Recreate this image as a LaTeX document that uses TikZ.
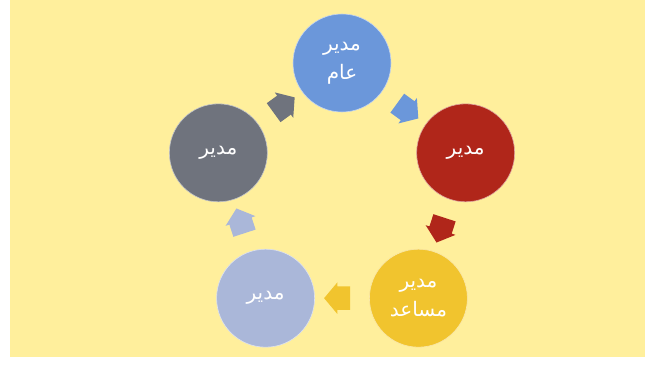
\documentclass[tikz,border=0pt]{standalone}
\usepackage{fontspec}
\newfontfamily\arabicfont[Script=Arabic]{DejaVu Sans}
\TeXXeTstate=1
\usetikzlibrary{shapes.arrows,calc}
\definecolor{paper}{HTML}{FFEF9C}
\definecolor{chiefblue}{HTML}{6B97DA}
\definecolor{brick}{HTML}{B0261A}
\definecolor{gold}{HTML}{F1C42E}
\definecolor{lavender}{HTML}{AAB7D9}
\definecolor{slate}{HTML}{6F737D}
\tikzset{
  manager/.style={circle,fill=#1,draw=white!60!#1,line width=0.6pt,
    minimum size=98pt,inner sep=0pt,text=white,align=center,
    font=\arabicfont\fontsize{20}{29}\selectfont},
  flow/.style={single arrow,fill=#1,draw=none,inner xsep=0pt,inner ysep=11.5pt,
    minimum height=26pt,
    single arrow head extend=4pt,single arrow tip angle=100}
}

\begin{document}
\begin{tikzpicture}[x=1pt, y=1pt]
        \fill[white] (0,0) rectangle (645,365);
        \fill[paper] (10,8) rectangle (645,365);
        \useasboundingbox (0,0) rectangle (645,365);

        \coordinate (O) at (342,172);
        \node[manager=chiefblue] (M_1) at ($(O)+(90:130)$)  {\beginR مدير\endR\\\beginR عام\endR};
        \node[manager=brick] (M_2) at ($(O)+(18:130)$)  {\beginR مدير\endR};
        \node[manager=gold] (M_3) at ($(O)+(-54:130)$)  {\beginR مدير\endR\\\beginR مساعد\endR};
        \node[manager=lavender] (M_4) at ($(O)+(-126:130)$)  {\beginR مدير\endR};
        \node[manager=slate] (M_5) at ($(O)+(162:130)$)  {\beginR مدير\endR};

        \node[flow=chiefblue,rotate=-36] (A_1) at ($(M_1)!0.5!(M_2)$) {};
        \node[flow=brick,rotate=-108] (A_2) at ($(M_2)!0.5!(M_3)$) {};
        \node[flow=gold,rotate=180] (A_3) at ($(M_3)!0.5!(M_4)$) {};
        \node[flow=lavender,rotate=108] (A_4) at ($(M_4)!0.5!(M_5)$) {};
        \node[flow=slate,rotate=36] (A_5) at ($(M_5)!0.5!(M_1)$) {};
    \end{tikzpicture}
\end{document}
